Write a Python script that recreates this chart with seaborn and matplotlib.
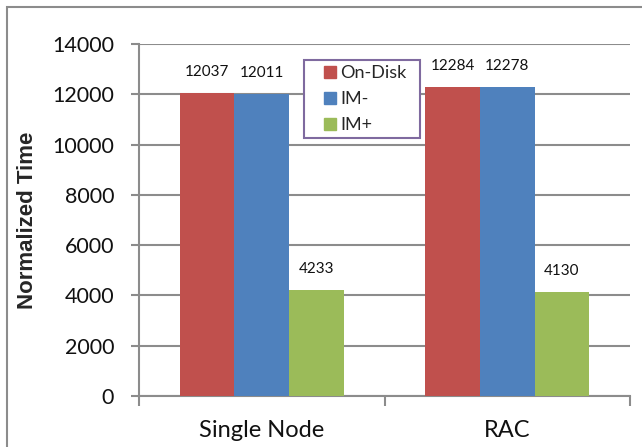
import matplotlib
matplotlib.use("Agg")
import matplotlib.pyplot as plt
import matplotlib.patches as mpatches
from matplotlib.legend_handler import HandlerPatch
from matplotlib.ticker import FixedLocator
import seaborn as sns
import pandas as pd

# Data
configs = ["Single Node", "RAC"]
series = ["On-Disk", "IM-", "IM+"]
on_disk = [12037, 12284]
im_minus = [12011, 12278]
im_plus = [4233, 4130]
colors = ["#C0504D", "#4F81BD", "#9BBB59"]

df = pd.DataFrame({
    "config": configs * 3,
    "series": [s for s in series for _ in configs],
    "time": on_disk + im_minus + im_plus,
})

sns.set_theme(style="white")
plt.rcParams["font.family"] = ["Lato", "DejaVu Sans"]

fig = plt.figure(figsize=(6.42, 4.47), dpi=100)
ax = fig.add_axes([139 / 642, 1 - 396 / 447, 491 / 642, 352 / 447])

sns.barplot(data=df, x="config", y="time", hue="series", order=configs,
            hue_order=series, palette=colors, width=0.667, gap=0,
            saturation=1, edgecolor="none", linewidth=0, ax=ax, zorder=3)

for cont in ax.containers:
    ax.bar_label(cont, fmt="%d", padding=10, fontsize=11, color="#111111")

ax.set_ylim(0, 14000)
ax.set_xlim(-0.5, 1.5)
ax.set_yticks(range(0, 14001, 2000))
ax.tick_params(axis="y", labelsize=15.5, length=6, width=1.5, color="#8c8c8c",
               pad=12, left=True, labelcolor="#111111")
ax.yaxis.grid(True, color="#8c8c8c", linewidth=1.5, zorder=0)
ax.set_axisbelow(True)

# category labels between boundary ticks
ax.xaxis.set_major_locator(FixedLocator([-0.5, 0.5, 1.5]))
ax.xaxis.set_minor_locator(FixedLocator([0, 1]))
ax.set_xticklabels([], minor=False)
ax.set_xticklabels(configs, minor=True)
ax.tick_params(axis="x", which="major", length=7, width=1.5, color="#8c8c8c",
               bottom=True, direction="out")
ax.tick_params(axis="x", which="minor", length=0, labelsize=17, pad=17,
               labelcolor="#111111")
ax.set_xlabel("")
ax.set_ylabel("Normalized Time", fontsize=16, fontweight="bold",
              family=["Liberation Sans", "DejaVu Sans"])
ax.yaxis.set_label_coords(-(139 - 38) / 491, 0.5)

for side in ["top", "right"]:
    ax.spines[side].set_visible(False)
for side in ["left", "bottom"]:
    ax.spines[side].set_color("#8c8c8c")
    ax.spines[side].set_linewidth(1.5)


def square_right(legend, orig_handle, xdescent, ydescent, width, height, fontsize):
    s = height
    return mpatches.Rectangle((-xdescent + width - s, -ydescent), s, s)


handles = [mpatches.Patch(color=c, label=s) for c, s in zip(colors, series)]
ax.get_legend().remove()
leg = ax.legend(handles=handles, loc="upper left", mode="expand",
                bbox_to_anchor=(0.3354, 0.70, 0.2369, 0.2545), fontsize=13,
                frameon=True, fancybox=False, handlelength=1.5,
                handleheight=0.62, handletextpad=0.25, labelspacing=0.56,
                borderpad=0.28, borderaxespad=0,
                handler_map={mpatches.Patch: HandlerPatch(patch_func=square_right)})
leg.get_frame().set_edgecolor("#7f6a9f")
leg.get_frame().set_linewidth(1.5)
leg.get_frame().set_alpha(1)
leg.set_zorder(5)

# outer chart frame
fig.patches.append(mpatches.Rectangle((7 / 642, -0.1), 1.2, 1 - 7 / 447 + 0.1,
                                      transform=fig.transFigure, fill=False,
                                      edgecolor="#8c8c8c", linewidth=1.5))

fig.savefig("out.png", dpi=100)
